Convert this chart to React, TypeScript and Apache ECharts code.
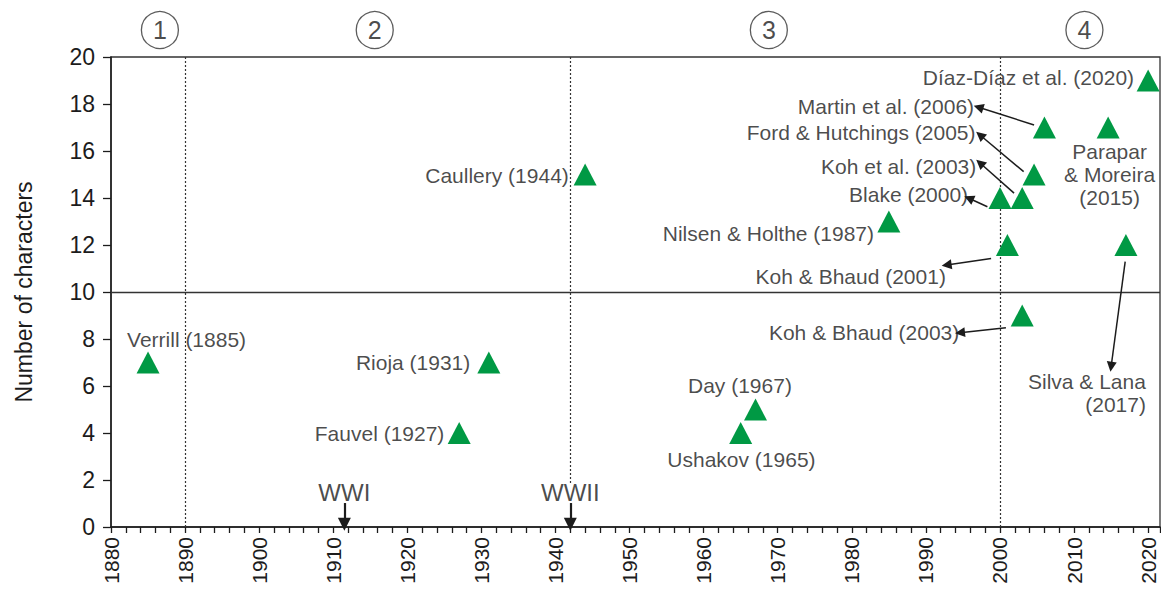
import { useEffect, useRef } from 'react';
import * as echarts from 'echarts';

// ---- data ----
const years = [1885, 1927, 1931, 1944, 1965, 1967, 1985, 2000, 2003, 2004.6, 2006, 2001, 2003, 2014.6, 2017, 2020];
const chars = [7, 4, 7, 15, 4, 5, 13, 14, 14, 15, 17, 12, 9, 17, 12, 19];

const labelTexts = [
  'Verrill (1885)', 'Fauvel (1927)', 'Rioja (1931)', 'Caullery (1944)', 'Ushakov (1965)', 'Day (1967)',
  'Nilsen & Holthe (1987)', 'Blake (2000)', 'Koh et al. (2003)', 'Ford & Hutchings (2005)', 'Martin et al. (2006)',
  'Koh & Bhaud (2001)', 'Koh & Bhaud (2003)', 'Parapar\n& Moreira\n(2015)', 'Silva & Lana\n(2017)', 'Díaz-Díaz et al. (2020)',
];
const labelX = [1890.2, 1925.0, 1928.5, 1941.8, 1965.1, 1964.9, 1983.0, 1995.7, 1996.8, 1996.7, 1996.5, 1992.7, 1994.5, 2014.8, 2019.7, 2018.1];
const labelY = [8.0, 4.0, 7.02, 14.94, 2.89, 6.04, 12.5, 14.13, 15.33, 16.8, 17.91, 10.68, 8.27, 15.0, 5.69, 19.14];
const labelAlign = ['center', 'right', 'right', 'right', 'center', 'center', 'right', 'right', 'right', 'right', 'right', 'right', 'right', 'center', 'right', 'right'];

const arrowFrom = [[1998.3, 13.63], [2001.9, 14.21], [2003.2, 15.12], [2004.6, 17.11], [1998.8, 11.43], [2000.8, 8.48], [2016.9, 11.29]];
const arrowTo = [[1995.8, 13.99], [1997.3, 15.49], [1997.3, 16.68], [1997.1, 17.86], [1992.8, 11.15], [1994.6, 8.27], [2015.0, 6.82]];

const warNames = ['WWI', 'WWII'];
const warYears = [1911.5, 1942];
const warTextY = 1.47;
const warArrowTop = 1.02;
const warArrowBottom = 0.12;

const periodNames = ['1', '2', '3', '4'];
const periodX = [1886.6, 1915.6, 1968.8, 2011.4];
const periodY = 21.15;

const dividerYears = [1890, 2000];
const wwiiDividerBottom = 1.85;
const thresholdValue = 10;

const xMin = 1880;
const xMax = 2021.6;
const yMin = 0;
const yMax = 20;

const FONT = '"Liberation Sans", Arial, Helvetica, sans-serif';
const INK = '#1c1c1c';
const GREEN = '#009944';
const CLEAR = 'rgba(0,0,0,0)';

export default function App() {
  const ref = useRef<HTMLDivElement>(null);
  useEffect(() => {
    if (!ref.current) return;
    const chart = echarts.init(ref.current, null, { renderer: 'svg' });

    const labelData = labelTexts.map((t, i) => ({
      value: [labelX[i], labelY[i]],
      label: { formatter: t, align: labelAlign[i] },
    }));
    const warData = warNames.map((t, i) => ({
      value: [warYears[i], warTextY],
      label: { formatter: t },
    }));

    const option: any = {
      animation: false,
      textStyle: { fontFamily: FONT },
      grid: {
        left: 111, top: 57, width: 1049, height: 470,
        show: true, borderColor: '#333', borderWidth: 1.3, backgroundColor: 'transparent',
      },
      xAxis: {
        type: 'value', min: xMin, max: xMax, interval: 2,
        axisLine: { show: true, onZero: false, lineStyle: { color: INK, width: 1.5 } },
        axisTick: { show: true, length: 6, lineStyle: { color: INK, width: 1.3 } },
        axisLabel: {
          rotate: 90, fontSize: 21, color: INK, margin: 10, fontFamily: FONT,
          formatter: (v: number) => (Math.abs(v % 10) < 1e-6 ? String(Math.round(v)) : ''),
        },
        splitLine: { show: false },
      },
      yAxis: {
        type: 'value', min: yMin, max: yMax, interval: 2,
        name: 'Number of characters', nameLocation: 'middle', nameGap: 76,
        nameTextStyle: { fontSize: 23, color: INK, fontFamily: FONT },
        axisLine: { show: true, onZero: false, lineStyle: { color: INK, width: 1.5 } },
        axisTick: { show: true, length: 8, lineStyle: { color: INK, width: 1.3 } },
        axisLabel: { fontSize: 23, color: INK, margin: 16, fontFamily: FONT },
        splitLine: { show: false },
      },
      series: [
        {
          name: 'guides', type: 'scatter', symbolSize: 0, silent: true, z: 1,
          data: [[xMin, yMin]],
          itemStyle: { color: CLEAR },
          markLine: {
            silent: true, symbol: ['none', 'none'], label: { show: false },
            emphasis: { disabled: true },
            data: [
              ...dividerYears.map((y) => ({ xAxis: y, lineStyle: { type: [2, 2], color: '#333', width: 1.2 } })),
              [
                { coord: [warYears[1], yMax], lineStyle: { type: [2, 2], color: '#333', width: 1.2 } },
                { coord: [warYears[1], wwiiDividerBottom] },
              ],
              { yAxis: thresholdValue, lineStyle: { type: 'solid', color: '#333', width: 1.4 } },
            ],
          },
        },
        {
          name: 'arrows', type: 'scatter', symbolSize: 0, silent: true, z: 2,
          data: [[xMin, yMin]],
          itemStyle: { color: CLEAR },
          markLine: {
            silent: true, symbol: ['none', 'triangle'], symbolSize: 10,
            label: { show: false }, emphasis: { disabled: true },
            lineStyle: { type: 'solid', color: INK, width: 1.5 },
            data: arrowFrom.map((f, i) => [{ coord: f }, { coord: arrowTo[i] }]),
          },
        },
        {
          name: 'warArrows', type: 'scatter', symbolSize: 0, silent: true, z: 2,
          data: [[xMin, yMin]],
          itemStyle: { color: CLEAR },
          markLine: {
            silent: true, symbol: ['none', 'triangle'], symbolSize: 13,
            label: { show: false }, emphasis: { disabled: true },
            lineStyle: { type: 'solid', color: INK, width: 2.2 },
            data: warYears.map((y) => [{ coord: [y, warArrowTop] }, { coord: [y, warArrowBottom] }]),
          },
        },
        {
          name: 'studies', type: 'scatter', symbol: 'triangle', symbolSize: [23, 22], z: 5,
          itemStyle: { color: GREEN, opacity: 1 },
          data: years.map((y, i) => [y, chars[i]]),
        },
        {
          name: 'labels', type: 'scatter', symbolSize: 1, silent: true, z: 4,
          itemStyle: { color: CLEAR },
          label: {
            show: true, position: 'inside', color: INK, fontSize: 21, lineHeight: 23,
            fontFamily: FONT, verticalAlign: 'middle',
          },
          data: labelData,
        },
        {
          name: 'wars', type: 'scatter', symbolSize: 1, silent: true, z: 4,
          itemStyle: { color: CLEAR },
          label: { show: true, position: 'inside', color: INK, fontSize: 24, fontFamily: FONT, align: 'center', verticalAlign: 'middle' },
          data: warData,
        },
        {
          name: 'periods', type: 'scatter', symbol: 'circle', symbolSize: 37, clip: false, silent: true, z: 4,
          itemStyle: { color: '#fff', borderColor: '#333', borderWidth: 1.3 },
          label: {
            show: true, position: 'inside', color: INK, fontSize: 25, fontFamily: FONT,
            formatter: (p: any) => periodNames[p.dataIndex],
          },
          data: periodX.map((x) => [x, periodY]),
        },
      ],
    };
    chart.setOption(option);
    return () => chart.dispose();
  }, []);
  return <div ref={ref} style={{ position: 'fixed', left: 0, top: 0, width: 1161, height: 601, background: '#fff' }} />;
}
